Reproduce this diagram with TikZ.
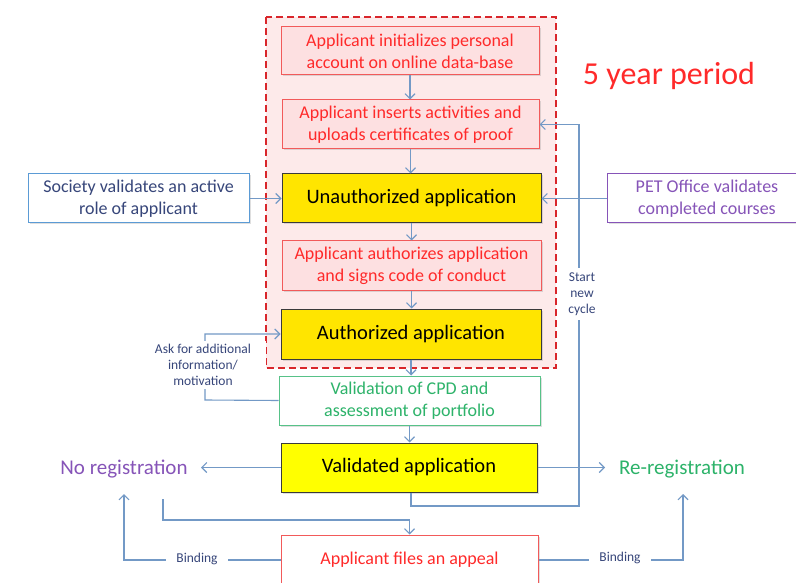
\documentclass[tikz,border=0pt]{standalone}
\usepackage{fontspec}
\setmainfont{Carlito}
\usetikzlibrary{arrows.meta,shadows}
\definecolor{rtxt}{HTML}{FF2A2A}
\definecolor{rbrd}{HTML}{F25A5A}
\definecolor{pinkf}{HTML}{FDE0E1}
\definecolor{regf}{HTML}{FDEAEA}
\definecolor{dashr}{HTML}{D9262B}
\definecolor{yel1}{HTML}{FFE500}
\definecolor{yel2}{HTML}{FFFF00}
\definecolor{lnblue}{HTML}{7399C6}
\definecolor{bbrd}{HTML}{5B9BD5}
\definecolor{btxt}{HTML}{37467A}
\definecolor{gtxt}{HTML}{2DB36A}
\definecolor{ptxt}{HTML}{8654B8}
\definecolor{dk}{HTML}{3A3A3A}
\tikzset{
  box/.style={draw, line width=1pt, minimum width=#1, minimum height=49pt, align=center,
    inner sep=2pt, font=\fontsize{18}{22}\selectfont,
    drop shadow={opacity=0.25, shadow xshift=1.5pt, shadow yshift=-1.5pt}},
  redbox/.style={box=#1, draw=rbrd, fill=pinkf, text=rtxt},
  yelbox/.style={box=#1, draw=dk, fill=yel1, text=black, font=\fontsize{20.5}{22}\selectfont},
  arr/.style={draw=lnblue, line width=1.1pt, -{Straight Barb[length=5pt,width=10pt]}},
  ln/.style={draw=lnblue, line width=1.1pt},
  lbl/.style={fill=white, text=btxt, align=center, font=\fontsize{13.5}{16}\selectfont, inner sep=3pt}
}
\begin{document}
\begin{tikzpicture}[x=1pt,y=-1pt]
\useasboundingbox (0,0) rectangle (796,583);
\fill[white] (0,0) rectangle (796,583);
% 5 year region
\fill[regf] (266,17) rectangle (556,368);
\draw[dashr, line width=2.2pt, dash pattern=on 7pt off 4pt] (266,17) rectangle (556,368);
\node[text=rtxt, font=\fontsize{32}{34}\selectfont] (five) at (669,76) {5 year period};
% main boxes
\node[redbox=258pt, minimum height=48pt] (b1) at (410,51) {Applicant initializes personal\\account on online data-base};
\node[redbox=257pt] (b2) at (410.5,124.5) {Applicant inserts activities and\\uploads certificates of proof};
\node[yelbox=259pt] (b3) at (411.5,198.5) {Unauthorized application};
\node[redbox=259pt] (b4) at (411.5,265.5) {Applicant authorizes application\\and signs code of conduct};
\node[yelbox=260pt, minimum height=50pt] (b5) at (411,334) {Authorized application};
\node[box=261pt, draw=gtxt!80, fill=white, text=gtxt] (b6) at (409.5,400.5) {Validation of CPD and\\assessment of portfolio};
\node[yelbox=256pt, fill=yel2] (b7) at (409,467.5) {Validated application};
\node[box=257pt, minimum height=50pt, draw=rbrd, fill=white, text=rtxt] (b8) at (409.5,560) {Applicant files an appeal};
% side boxes
\node[box=221pt, draw=bbrd, fill=white, text=btxt] (soc) at (138.5,198.5) {Society validates an active\\role of applicant};
\node[box=200pt, draw=ptxt, fill=white, text=ptxt] (pet) at (707,198.5) {PET Office validates\\completed courses};
% outcomes
\node[text=ptxt, font=\fontsize{21}{23}\selectfont] (nreg) at (124,469) {No registration};
\node[text=gtxt, font=\fontsize{21}{23}\selectfont] (rreg) at (682,469) {Re-registration};
% coordinates
\coordinate (snc) at (579,506);
\coordinate (ap1) at (163,499);
\coordinate (ap2) at (163,520);
\coordinate (nrh) at (124,494);
\coordinate (rrh) at (683,494);
\coordinate (ak) at (205,400);
% vertical chain
\draw[arr] (b1.south) -- (b1.south |- b2.north);
\draw[arr] (b2.south) -- (b2.south |- b3.north);
\draw[arr] (b3.south) -- (b3.south |- b4.north);
\draw[arr] (b4.south) -- (b4.south |- b5.north);
\draw[arr] (b5.south) -- (b5.south |- b6.north);
\draw[arr] (b6.south) -- (b6.south |- b7.north);
% side inputs
\draw[arr] (soc.east) -- (soc.east -| b3.west);
\draw[arr] (pet.west) -- (pet.west -| b3.east);
% start new cycle
\draw[arr] ([xshift=2pt]b7.south) |- (snc) |- (b2.east);
% outcomes
\draw[arr] (b7.west) -- (201,467.5);
\draw[arr] (b7.east) -- (605,467.5);
% appeal
\draw[arr] (ap1) -- (ap2) -| (b8.north);
\draw[arr] (b8.west) -| (nrh);
\draw[arr] (b8.east) -| (rrh);
% ask for more
\draw[arr] (b6.west) -- (ak) |- (b5.west);
% labels on lines
\node[lbl, minimum width=50pt, minimum height=52pt] (lsnc) at (582,294) {Start\\new\\cycle};
\node[lbl, minimum width=126pt, minimum height=48pt] (lask) at (203,365) {Ask for additional\\information/\\motivation};
\node[lbl, minimum width=62pt, minimum height=24pt] (lb1) at (197,559) {Binding};
\node[lbl, minimum width=62pt, minimum height=24pt] (lb2) at (620,558) {Binding};
\end{tikzpicture}
\end{document}
